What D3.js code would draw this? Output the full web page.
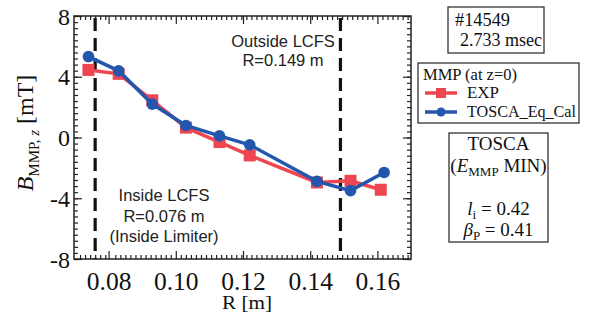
<!DOCTYPE html>
<html>
<head>
<meta charset="utf-8">
<script src="https://cdn.jsdelivr.net/npm/d3@7"></script>
<style>
  body { margin: 0; background: #fff; }
  svg { display: block; }
</style>
</head>
<body>
<svg id="chart"></svg>
<script>
// R positions [m] of the probes
const rExp = [0.074, 0.083, 0.093, 0.103, 0.113, 0.122, 0.142, 0.152, 0.161]
const bExp = [4.45, 4.19, 2.45, 0.65, -0.30, -1.18, -2.96, -2.85, -3.44]
const rCal = [0.074, 0.083, 0.093, 0.103, 0.113, 0.122, 0.142, 0.152, 0.162]
const bCal = [5.33, 4.39, 2.2, 0.79, 0.11, -0.48, -2.89, -3.5, -2.3]
const xTicks = [0.08, 0.10, 0.12, 0.14, 0.16]
const yTicks = [8, 4, 0, -4, -8]
const lcfs = [0.076, 0.149]

const red = '#ee4650'
const blue = '#2356ad'
const serif = '"Liberation Serif", "Times New Roman", serif'
const sans = '"Liberation Sans", Arial, sans-serif'

let width = 589
let height = 322
let pLeft = 74, pRight = 411, pTop = 16, pBottom = 259

let svg = d3.select('#chart')
  .attr('width', width)
  .attr('height', height)

svg.append('rect').attr('width', width).attr('height', height).attr('fill', '#fff')

let x = d3.scaleLinear().domain([0.07, 0.17]).range([pLeft + 1, pRight])
let y = d3.scaleLinear().domain([-8, 8]).range([pBottom, pTop])

// minor + major ticks on all four sides
let minorX = d3.range(0.0715, 0.17, 0.0015).filter(v => !xTicks.some(t => Math.abs(t - v) < 0.0005))
let minorY = d3.range(-8, 8.01, 0.4)

function tickAxis(axis, tr) {
  svg.append('g')
    .attr('transform', tr)
    .call(axis)
    .call(g => g.select('.domain').remove())
    .call(g => g.selectAll('line').attr('stroke', '#222').attr('stroke-width', 1.2))
}
tickAxis(d3.axisBottom(x).tickValues(minorX).tickSize(-4).tickFormat(''), `translate(0,${pBottom})`)
tickAxis(d3.axisTop(x).tickValues(minorX).tickSize(-4).tickFormat(''), `translate(0,${pTop})`)
tickAxis(d3.axisBottom(x).tickValues(xTicks).tickSize(-8).tickFormat(''), `translate(0,${pBottom})`)
tickAxis(d3.axisTop(x).tickValues(xTicks).tickSize(-8).tickFormat(''), `translate(0,${pTop})`)
tickAxis(d3.axisLeft(y).tickValues(minorY).tickSize(-4).tickFormat(''), `translate(${pLeft},0)`)
tickAxis(d3.axisRight(y).tickValues(minorY).tickSize(-4).tickFormat(''), `translate(${pRight},0)`)
tickAxis(d3.axisLeft(y).tickValues(yTicks).tickSize(-8).tickFormat(''), `translate(${pLeft},0)`)
tickAxis(d3.axisRight(y).tickValues(yTicks).tickSize(-8).tickFormat(''), `translate(${pRight},0)`)

// tick labels
let xl = svg.append('g')
  .attr('transform', `translate(0,${pBottom})`)
  .call(d3.axisBottom(x).tickValues(xTicks).tickSize(0).tickPadding(12).tickFormat(d3.format('.2f')))
xl.select('.domain').remove()
xl.selectAll('text').attr('font-family', serif).attr('font-size', 25.5).attr('fill', '#111').attr('dy', '0.75em')

let yl = svg.append('g')
  .attr('transform', `translate(${pLeft},0)`)
  .call(d3.axisLeft(y).tickValues(yTicks).tickSize(0).tickPadding(4).tickFormat(d => d))
yl.select('.domain').remove()
yl.selectAll('text').attr('font-family', serif).attr('font-size', 24).attr('fill', '#111').attr('dy', '0.34em')

svg.append('rect')
  .attr('x', pLeft).attr('y', pTop)
  .attr('width', pRight - pLeft).attr('height', pBottom - pTop)
  .attr('fill', 'none').attr('stroke', '#222').attr('stroke-width', 1.5)

// annotation text with white backing
function note(cx, lines, y0, dy) {
  let g = svg.append('g')
  let t = g.append('text')
    .attr('font-family', sans).attr('font-size', 16.5).attr('fill', '#222')
    .attr('text-anchor', 'middle')
  lines.forEach((s, i) => {
    t.append('tspan').attr('x', cx).attr('y', y0 + i * dy).text(s)
  })
  let bb = t.node().getBBox()
  g.insert('rect', 'text')
    .attr('x', bb.x - 3).attr('y', bb.y - 1)
    .attr('width', bb.width + 6).attr('height', bb.height + 2)
    .attr('fill', '#fff')
}
note(283, ['Outside LCFS', 'R=0.149 m'], 47, 18.5)
note(164, ['Inside LCFS', 'R=0.076 m', '(Inside Limiter)'], 201, 20.5)

// LCFS positions
svg.selectAll('.lcfs')
  .data(lcfs)
  .enter()
  .append('line')
  .attr('x1', d => x(d)).attr('x2', d => x(d))
  .attr('y1', pTop + 2).attr('y2', pBottom)
  .attr('stroke', '#111').attr('stroke-width', 3.2)
  .attr('stroke-dasharray', '13,7')

// series
let expData = rExp.map((r, i) => [r, bExp[i]])
let calData = rCal.map((r, i) => [r, bCal[i]])
let line = d3.line().x(d => x(d[0])).y(d => y(d[1]))

svg.append('path').datum(expData).attr('d', line)
  .attr('fill', 'none').attr('stroke', red).attr('stroke-width', 3.5)
svg.selectAll('.sq').data(expData).enter().append('rect')
  .attr('x', d => x(d[0]) - 6).attr('y', d => y(d[1]) - 6)
  .attr('width', 12).attr('height', 12).attr('fill', red)

svg.append('path').datum(calData).attr('d', line)
  .attr('fill', 'none').attr('stroke', blue).attr('stroke-width', 3.5)
svg.selectAll('.dot').data(calData).enter().append('circle')
  .attr('cx', d => x(d[0])).attr('cy', d => y(d[1])).attr('r', 5.8)
  .attr('fill', blue)

// axis titles
svg.append('text')
  .attr('x', 247).attr('y', 309)
  .attr('text-anchor', 'middle')
  .attr('font-family', serif).attr('font-size', 19).attr('fill', '#111')
  .attr('textLength', 50).attr('lengthAdjust', 'spacingAndGlyphs')
  .text('R [m]')

let yt = svg.append('text')
  .attr('transform', 'translate(33,133) rotate(-90)')
  .attr('text-anchor', 'middle')
  .attr('font-family', serif).attr('font-size', 24).attr('fill', '#111')
yt.append('tspan').attr('font-style', 'italic').text('B')
yt.append('tspan').attr('font-size', 15).attr('dy', 6).text('MMP, ')
yt.append('tspan').attr('font-size', 15).attr('font-style', 'italic').text('z')
yt.append('tspan').attr('dy', -6).text(' [mT]')

// right side boxes
function box(x0, y0, w, h) {
  svg.append('rect').attr('x', x0).attr('y', y0).attr('width', w).attr('height', h)
    .attr('fill', '#fff').attr('stroke', '#333').attr('stroke-width', 1.3)
}
function label(x0, y0, s, len, size) {
  return svg.append('text').attr('x', x0).attr('y', y0)
    .attr('font-family', serif).attr('font-size', size).attr('fill', '#111')
    .attr('textLength', len).attr('lengthAdjust', 'spacingAndGlyphs')
    .text(s)
}
box(448, 7, 96, 46)
label(455, 26, '#14549', 55, 18)
label(460, 46, '2.733 msec', 82, 18)

box(418, 63, 161, 60)
label(423, 80, 'MMP (at z=0)', 94, 17)
let legend = [
  { name: 'EXP', color: red, shape: 'sq', ly: 93, len: 32 },
  { name: 'TOSCA_Eq_Cal', color: blue, shape: 'dot', ly: 112, len: 109 }
]
legend.forEach(l => {
  svg.append('line').attr('x1', 425).attr('x2', 457).attr('y1', l.ly).attr('y2', l.ly)
    .attr('stroke', l.color).attr('stroke-width', 3.5)
  if (l.shape === 'sq') {
    svg.append('rect').attr('x', 436).attr('y', l.ly - 5).attr('width', 10).attr('height', 10).attr('fill', l.color)
  } else {
    svg.append('circle').attr('cx', 441).attr('cy', l.ly).attr('r', 4.5).attr('fill', l.color)
  }
  label(467, l.ly + 5, l.name, l.len, 17)
})

box(449, 133, 99, 109)
let cx = 498.5
let t1 = svg.append('g').attr('font-family', serif).attr('font-size', 19).attr('fill', '#111').attr('text-anchor', 'middle')
t1.append('text').attr('x', cx).attr('y', 150).text('TOSCA')
let t2 = t1.append('text').attr('x', cx).attr('y', 172)
t2.append('tspan').text('(')
t2.append('tspan').attr('font-style', 'italic').text('E')
t2.append('tspan').attr('font-size', 13).attr('dy', 4).text('MMP')
t2.append('tspan').attr('dy', -4).text(' MIN)')
let t3 = t1.append('text').attr('x', cx).attr('y', 215)
t3.append('tspan').attr('font-style', 'italic').text('l')
t3.append('tspan').attr('font-size', 13).attr('dy', 4).text('i')
t3.append('tspan').attr('dy', -4).text(' = 0.42')
let t4 = t1.append('text').attr('x', cx).attr('y', 236)
t4.append('tspan').attr('font-style', 'italic').text('β')
t4.append('tspan').attr('font-size', 13).attr('dy', 4).text('P')
t4.append('tspan').attr('dy', -4).text(' = 0.41')
</script>
</body>
</html>
